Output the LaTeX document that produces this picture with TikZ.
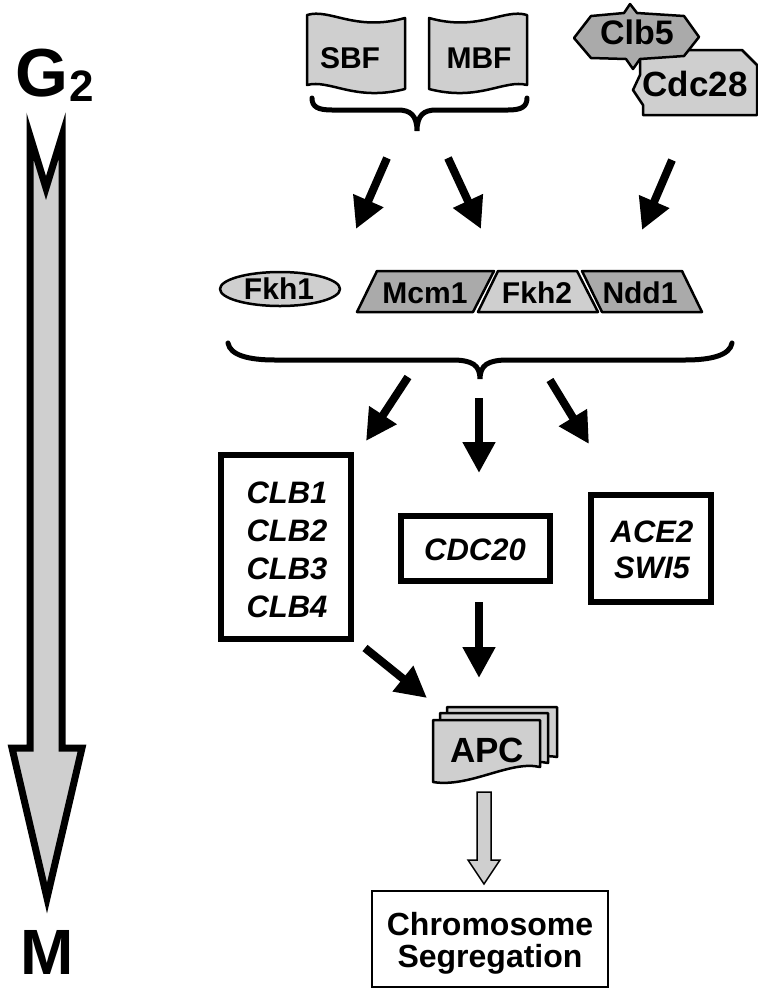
\documentclass[tikz,border=0pt]{standalone}
\usepackage{fontspec}
\setmainfont{Liberation Sans}
\usetikzlibrary{arrows.meta}
\definecolor{lg}{HTML}{CFCFCF}
\definecolor{dg}{HTML}{AAAAAA}
\begin{document}
\begin{tikzpicture}[x=1pt,y=-1pt,
  lbl/.style={font=\fontsize{30}{30}\selectfont\bfseries, inner sep=0pt},
  big/.style={font=\fontsize{35}{36}\selectfont\bfseries, inner sep=0pt},
  gene/.style={font=\fontsize{31}{38}\selectfont\bfseries\itshape, inner sep=0pt, align=center},
  shp/.style={draw=black, line width=2.5pt, line join=round},
  arr/.style={line width=8pt, -{Triangle[length=31pt,width=31pt]}},
  genebox/.style={draw, line width=6pt},
  brace/.style={line width=5pt, line cap=round},
]
\path[use as bounding box] (0,0) rectangle (758,989);

% ---- big G2 -> M arrow
\draw[line width=7pt, fill=lg, line join=miter, miter limit=10]
  (30,136) -- (46,188) -- (62,136) -- (62,748) -- (82,748) -- (47,898) -- (12,748) -- (30,748) -- cycle;
\node[font=\fontsize{68}{68}\selectfont\bfseries, inner sep=0pt] (G) at (42,73) {G};
\node[font=\fontsize{44}{44}\selectfont\bfseries, inner sep=0pt] (two) at (82,86) {2};
\node[font=\fontsize{64}{64}\selectfont\bfseries, inner sep=0pt] (M) at (47,952) {M};

% ---- SBF / MBF flags
\draw[shp, fill=lg] (307,15) .. controls (330,8) and (355,32) .. (405,18)
  -- (405,89) .. controls (355,102) and (330,79) .. (307,85) -- cycle;
\draw[shp, fill=lg] (429,18) .. controls (479,32) and (504,8) .. (527,15)
  -- (527,85) .. controls (504,79) and (479,102) .. (429,89) -- cycle;
\node[lbl] (sbf) at (350,58) {SBF};
\node[lbl] (mbf) at (479,58) {MBF};
\draw[brace] (312,98) .. controls (312,107) and (318,110) .. (332,110) -- (398,110)
  .. controls (410,110) and (417,115) .. (417,131)
  .. controls (417,115) and (424,110) .. (436,110) -- (508,110)
  .. controls (521,110) and (527,107) .. (527,98);

% ---- Clb5 / Cdc28
\draw[shp, fill=lg] (640,50) -- (742,50) -- (757,65) -- (757,115) -- (643,115) -- (643,105) -- (633,90) -- (640,75) -- cycle;
\draw[shp, fill=dg] (574,38) -- (591,16) -- (624,13) -- (630,4) -- (637,13) -- (684,16) -- (699,37) -- (684,56) -- (640,59) -- (633,69) -- (626,59) -- (591,58) -- cycle;
\node[font=\fontsize{34}{36}\selectfont\bfseries, inner sep=0pt] (clb5) at (637,32) {Clb5};
\node[big] (cdc28) at (695,84) {Cdc28};

% ---- arrows, first row
\coordinate (a1s) at (387,158); \coordinate (a1e) at (356,229);
\coordinate (a2s) at (448,158); \coordinate (a2e) at (481,229);
\coordinate (a3s) at (672,160); \coordinate (a3e) at (642,230);
\draw[arr] (a1s) -- (a1e);
\draw[arr] (a2s) -- (a2e);
\draw[arr] (a3s) -- (a3e);

% ---- second row
\draw[shp, fill=lg] (280,289) ellipse [x radius=60, y radius=17];
\node[lbl] (fkh1) at (279,289) {Fkh1};
\draw[shp, fill=dg] (357,312) -- (377,271) -- (494,271) -- (473,312) -- cycle;
\draw[shp, fill=lg] (478,312) -- (498,271) -- (577,271) -- (598,312) -- cycle;
\draw[shp, fill=dg] (602,312) -- (582,271) -- (682,271) -- (702,312) -- cycle;
\node[lbl] (mcm1) at (425,293) {Mcm1};
\node[lbl] (fkh2) at (537,293) {Fkh2};
\node[lbl] (ndd1) at (640,293) {Ndd1};
\draw[brace] (228,343) .. controls (230,355) and (248,360) .. (275,360) -- (452,360)
  .. controls (472,360) and (480,365) .. (480,379)
  .. controls (480,365) and (488,360) .. (508,360) -- (685,360)
  .. controls (712,360) and (730,355) .. (732,343);

\coordinate (b1s) at (408,377); \coordinate (b1e) at (366,441);
\coordinate (b2s) at (479,398); \coordinate (b2e) at (479,473);
\coordinate (b3s) at (550,380); \coordinate (b3e) at (589,444);
\draw[arr] (b1s) -- (b1e);
\draw[arr] (b2s) -- (b2e);
\draw[arr] (b3s) -- (b3e);

% ---- gene boxes
\draw[genebox] (221,455) rectangle (351,639);
\node[gene, anchor=base] (clb) at (287,617) {CLB1\\CLB2\\CLB3\\CLB4};
\draw[genebox] (401,516) rectangle (550,581);
\node[gene, anchor=base] (cdc20) at (475,560) {CDC20};
\draw[genebox] (591,495) rectangle (711,602);
\node[gene, anchor=base, font=\fontsize{31}{36}\selectfont\bfseries\itshape] (ace2) at (652,578) {ACE2\\SWI5};

\coordinate (c1s) at (479,602); \coordinate (c1e) at (479,678);
\coordinate (c2s) at (365,648); \coordinate (c2e) at (427,698);
\draw[arr] (c1s) -- (c1e);
\draw[arr] (c2s) -- (c2e);

% ---- APC stack
\draw[shp, fill=lg] (447,707) -- (557,707) -- (557,757) .. controls (530,752) and (500,770) .. (447,770) -- cycle;
\draw[shp, fill=lg] (440,713) -- (548,713) -- (548,763) .. controls (520,757) and (490,776) .. (440,776) -- cycle;
\draw[shp, fill=lg] (433,720) -- (540,720) -- (540,767) .. controls (510,760) and (470,788) .. (433,782) -- cycle;
\node[big] (apc) at (487,750) {APC};

% ---- hollow arrow and final box
\draw[line width=1.5pt, fill=lg, line join=miter] (477,792) -- (491,792) -- (491,860) -- (500,860) -- (484,884) -- (468,860) -- (477,860) -- cycle;
\draw[line width=2pt] (372,891) rectangle (608,987);
\node[font=\fontsize{32}{32}\selectfont\bfseries, inner sep=0pt, align=center, anchor=base] (chrom) at (490,967) {Chromosome\\Segregation};
\end{tikzpicture}
\end{document}
